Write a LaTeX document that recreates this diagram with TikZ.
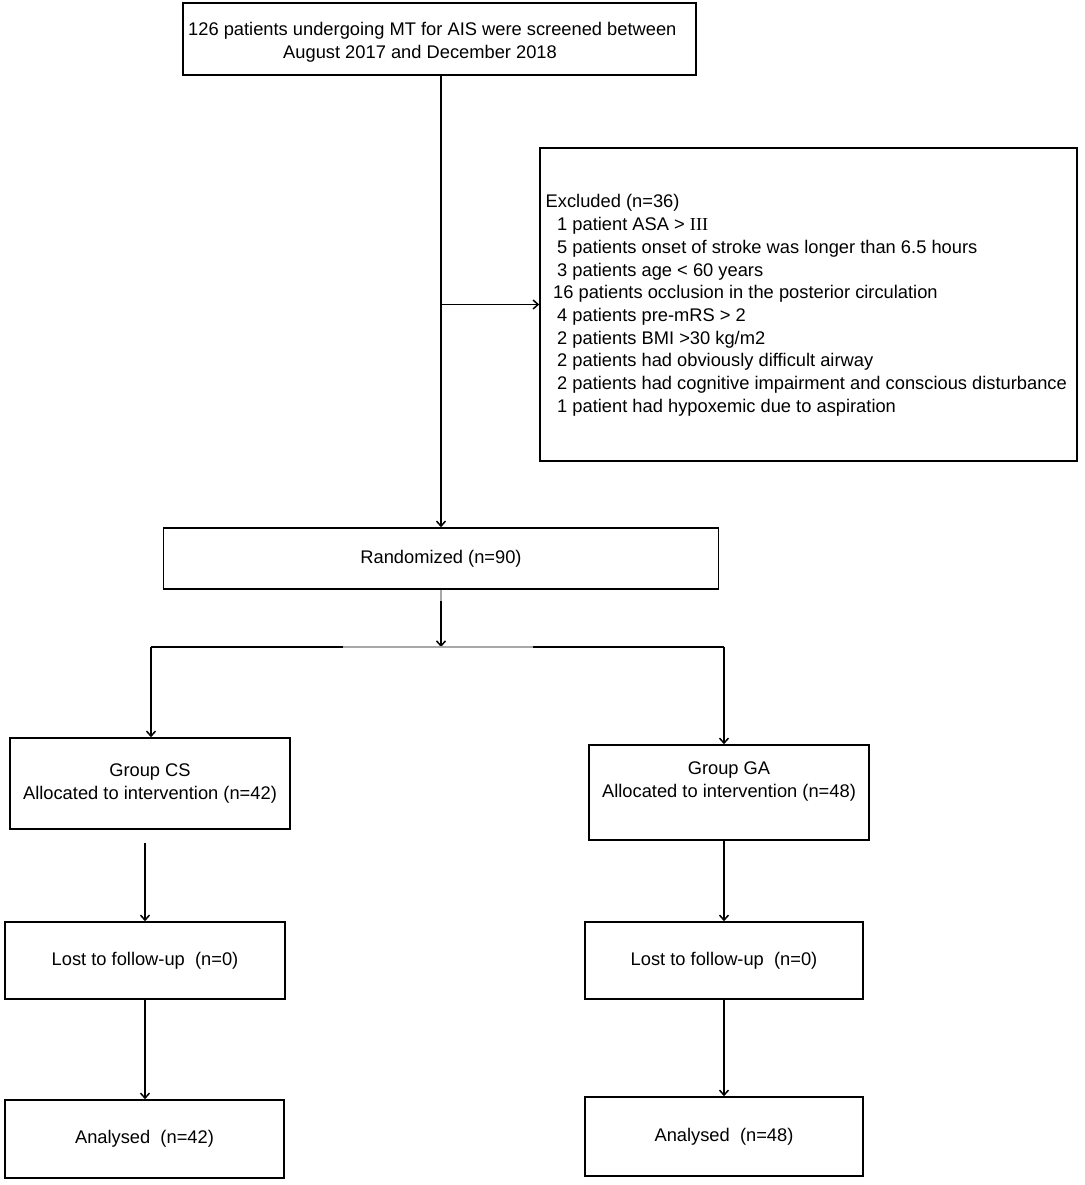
\documentclass[tikz,border=0pt]{standalone}
\usepackage{fontspec}
\setmainfont{Liberation Sans}
\newfontfamily\romanfont{Liberation Serif}
\usetikzlibrary{arrows.meta}
\definecolor{linegray}{HTML}{A8A8A8}
\tikzset{
  box/.style={draw=black, line width=1.6pt, fill=white, inner sep=0pt, align=center},
  txt/.style={inner sep=0pt, align=left},
  arr/.style={line width=1.6pt, -{Straight Barb[length=5pt,width=9pt,line width=1.5pt]}},
  ln/.style={line width=1.6pt},
  gln/.style={line width=1.6pt, draw=linegray}
}
\begin{document}
\begin{tikzpicture}[x=1pt, y=-1pt, font=\fontsize{18.3}{23}\selectfont]
\useasboundingbox (0,0) rectangle (1084,1185);
\fill[white] (0,0) rectangle (1084,1185);

% boxes
\node[box, minimum width=513pt, minimum height=72pt] (top) at (439.5,39) {};
\node[txt, anchor=north west] (toptxt) at (188,22) {126 patients undergoing MT for AIS were screened between\\\hspace*{95pt}August 2017 and December 2018};

\node[box, minimum width=537pt, minimum height=313pt] (excl) at (808.5,304.5) {};
\node[txt, anchor=north west, font=\fontsize{18.3}{22.7}\selectfont] (excltxt) at (545.5,194.5) {Excluded (n=36)\\
\hspace*{11.5pt}1 patient ASA > {\romanfont III}\\
\hspace*{11.5pt}5 patients onset of stroke was longer than 6.5 hours\\
\hspace*{11.5pt}3 patients age < 60 years\\
\hspace*{7.5pt}16 patients occlusion in the posterior circulation\\
\hspace*{11.5pt}4 patients pre-mRS > 2\\
\hspace*{11.5pt}2 patients BMI >30 kg/m2\\
\hspace*{11.5pt}2 patients had obviously difficult airway\\
\hspace*{11.5pt}2 patients had cognitive impairment and conscious disturbance\\
\hspace*{11.5pt}1 patient had hypoxemic due to aspiration};

\node[box, minimum width=555pt, minimum height=61pt] (rand) at (441,558.5) {Randomized (n=90)};

\node[box, minimum width=280pt, minimum height=91pt] (cs) at (150,783.5) {Group CS\\Allocated to intervention (n=42)};
\node[box, minimum width=280pt, minimum height=95pt] (ga) at (729,792.5) {};
\node[txt, align=center] (gatxt) at (729,781.5) {Group GA\\Allocated to intervention (n=48)};

\node[box, minimum width=280pt, minimum height=77pt] (cslost) at (145,960.5) {Lost to follow-up\ \ (n=0)};
\node[box, minimum width=278pt, minimum height=77pt] (galost) at (724,960.5) {Lost to follow-up\ \ (n=0)};

\node[box, minimum width=279pt, minimum height=78pt] (csana) at (144.5,1139) {Analysed\ \ (n=42)};
\node[box, minimum width=278pt, minimum height=79pt] (gaana) at (724,1136.5) {Analysed\ \ (n=48)};

% connectors
\draw[arr] (top.south -| rand.north) -- (rand.north);
\draw[arr] (excl.west -| rand.north) -- (excl.west);

\coordinate (split) at (441,601);
\coordinate (hmid) at (441,647);
\coordinate (hl) at (151,647);
\coordinate (hr) at (724,647);
\coordinate (gl) at (343,647);
\coordinate (gr) at (533,647);
\draw[gln] (rand.south) -- (split);
\draw[arr] (split) -- (hmid);
\draw[ln] (hl) -- (gl);
\draw[gln] (gl) -- (gr);
\draw[ln] (gr) -- (hr);
\draw[arr] (hl) -- (hl |- cs.north);
\draw[arr] (hr) -- (hr |- ga.north);

\draw[arr] ([yshift=-13pt]cs.south -| cslost.north) -- (cslost.north);
\draw[arr] (ga.south -| galost.north) -- (galost.north);
\draw[arr] (cslost.south) -- (cslost.south |- csana.north);
\draw[arr] (galost.south) -- (galost.south |- gaana.north);
\end{tikzpicture}
\end{document}
